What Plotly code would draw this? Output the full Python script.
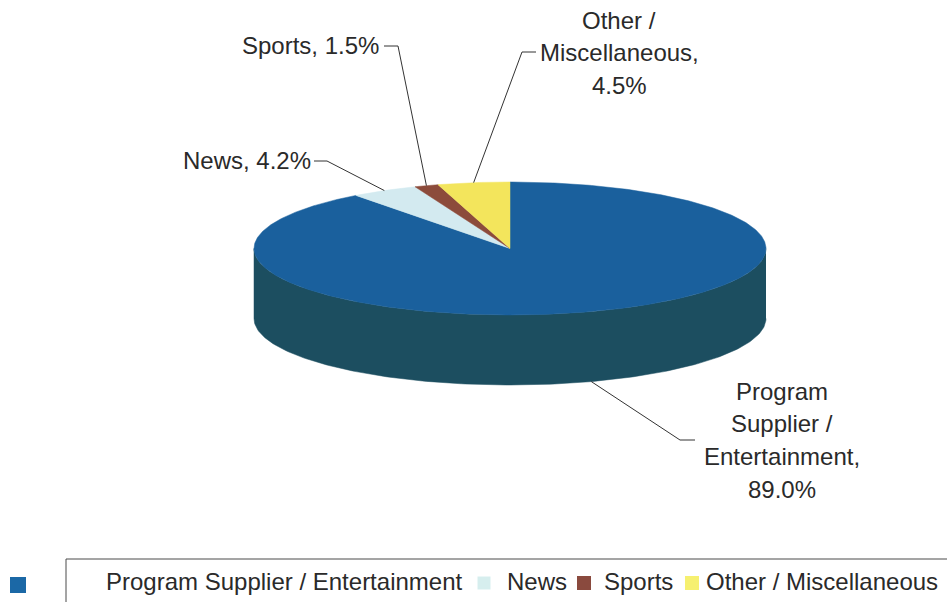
import textwrap
import numpy as np
import plotly.graph_objects as go

# ---- data -------------------------------------------------------------
categories = ["Program Supplier / Entertainment", "News", "Sports", "Other / Miscellaneous"]
shares = [89.0, 4.2, 1.5, 4.5]
top_colors = ["#1a609d", "#d3eaf0", "#8c4b3b", "#f3e55c"]
legend_colors = ["#1b68a6", "#d6eeee", "#8a4a3e", "#f6f070"]

# ---- 3-D pie geometry (pixel space, y grows downward) ----------------
CX, CY = 510.0, 248.5      # centre of the top face
RX, RY = 256.0, 66.5       # semi-axes of the top ellipse
DEPTH = 70.0               # thickness of the disc
SIDE_COLOR = "#1c4e60"
TEXT_COLOR = "#2a2a2a"
FONT = "Arial, Liberation Sans, sans-serif"
FONT_SIZE = 24


def rim(theta_deg, drop=0.0):
    """Point on the ellipse rim; angle measured clockwise from 12 o'clock."""
    t = np.radians(theta_deg)
    return CX + RX * np.sin(t), CY - RY * np.cos(t) + drop


fractions = np.array(shares) / sum(shares)
ends = np.cumsum(fractions) * 360.0
starts = ends - fractions * 360.0
mids = (starts + ends) / 2.0

fig = go.Figure()

# visible front wall of the disc (angles 90..270 degrees)
front = np.linspace(90, 270, 181)
xs_top, ys_top = rim(front)
xs_bot, ys_bot = rim(front[::-1], DEPTH)
fig.add_trace(go.Scatter(
    x=np.concatenate([xs_top, xs_bot]), y=np.concatenate([ys_top, ys_bot]),
    fill="toself", fillcolor=SIDE_COLOR, mode="lines",
    line=dict(color=SIDE_COLOR, width=0.5), hoverinfo="skip", showlegend=False))

# top faces of the slices
for name, a0, a1, col in zip(categories, starts, ends, top_colors):
    arc = np.linspace(a0, a1, max(int(a1 - a0) * 2, 6))
    ax, ay = rim(arc)
    fig.add_trace(go.Scatter(
        x=np.concatenate([[CX], ax, [CX]]), y=np.concatenate([[CY], ay, [CY]]),
        fill="toself", fillcolor=col, mode="lines",
        line=dict(color=col, width=0.5), name=name, hoverinfo="name",
        showlegend=False))

# ---- data labels with leader lines -----------------------------------
# per slice: anchor on the rim (from data), elbow, tick end, text block placement
label_layout = [
    # (drop for anchor, elbow x, elbow y, tick end x, text x, first-line y, xanchor)
    (DEPTH, 680, 440, 695, 782, 391, "center"),
    (0.0, 327, 161, 314, 313, 160, "right"),
    (0.0, 398, 46, 384, 381, 45, "right"),
    (0.0, 522, 52, 536, 619, 20, "center"),
]
LINE_GAP = 32.7

annotations = []
for name, val, mid, lay in zip(categories, shares, mids, label_layout):
    drop, ex, ey, tx, lx, ly, anchor = lay
    axp, ayp = rim(mid, drop)
    fig.add_trace(go.Scatter(
        x=[axp, ex, tx], y=[ayp, ey, ey], mode="lines",
        line=dict(color="#333333", width=1), hoverinfo="skip", showlegend=False))
    lines = textwrap.wrap(f"{name}, {val:.1f}%", width=14)
    for i, ln in enumerate(lines):
        annotations.append(dict(
            x=lx, y=ly + i * LINE_GAP, xref="x", yref="y", text=ln,
            showarrow=False, xanchor=anchor, yanchor="middle",
            font=dict(family=FONT, size=FONT_SIZE, color=TEXT_COLOR)))

# ---- legend strip ---------------------------------------------------------
legend_marker_x = [18, 484, 584, 692]
legend_text_x = [104, 505, 602, 704]
LEG_Y = 583
fig.add_trace(go.Scatter(
    x=legend_marker_x, y=[LEG_Y + 2, LEG_Y, LEG_Y, LEG_Y], mode="markers",
    marker=dict(symbol="square", size=[16, 13, 14, 14], color=legend_colors,
                opacity=1, line=dict(width=0)),
    hoverinfo="skip", showlegend=False))
for name, x0 in zip(categories, legend_text_x):
    annotations.append(dict(
        x=x0, y=LEG_Y - 2, xref="x", yref="y", text=name, showarrow=False,
        xanchor="left", yanchor="middle",
        font=dict(family=FONT, size=FONT_SIZE, color=TEXT_COLOR)))

fig.update_layout(
    width=947, height=602,
    margin=dict(l=0, r=0, t=0, b=0),
    paper_bgcolor="white", plot_bgcolor="white",
    xaxis=dict(range=[0, 947], visible=False, fixedrange=True),
    yaxis=dict(range=[602, 0], visible=False, fixedrange=True),
    annotations=annotations,
    shapes=[dict(type="rect", xref="x", yref="y", x0=66, y0=559, x1=952, y1=612,
                 line=dict(color="#4a4a4a", width=1), layer="below")],
)

fig.write_html("out.html")
